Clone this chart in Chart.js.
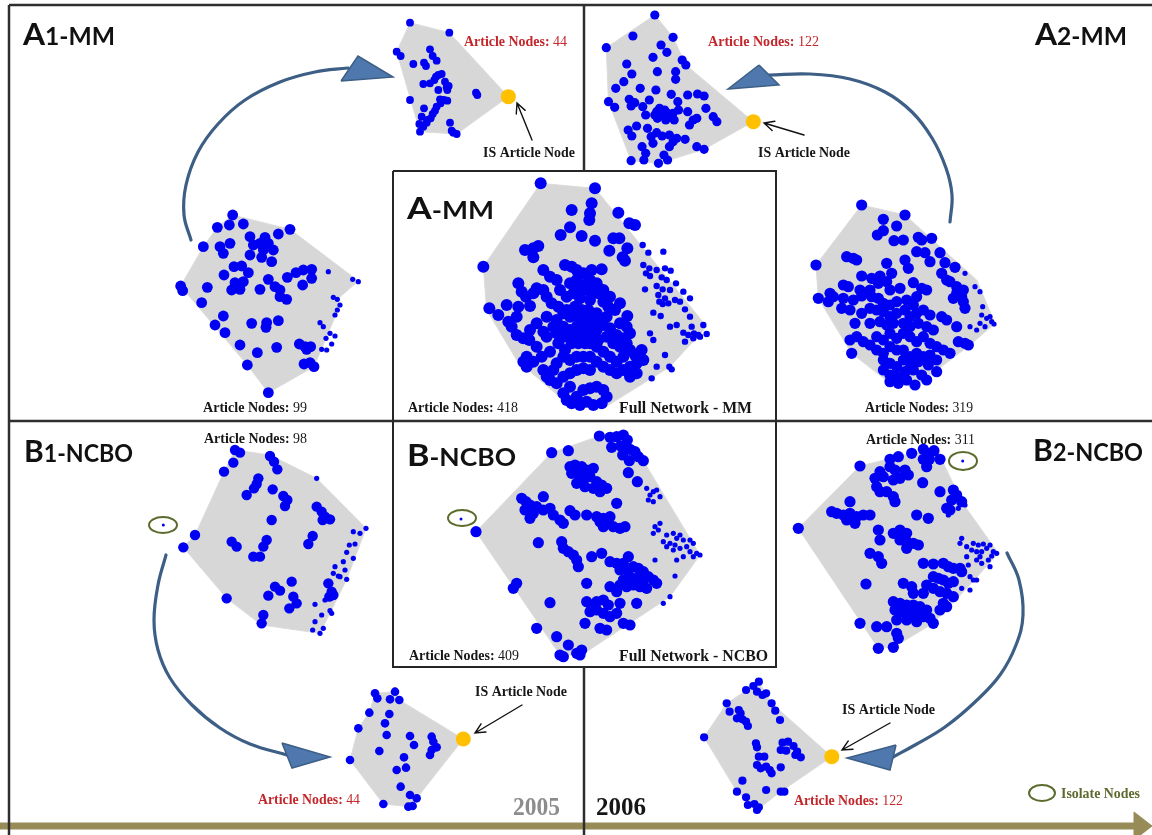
<!DOCTYPE html>
<html>
<head>
<meta charset="utf-8">
<script src="https://cdn.jsdelivr.net/npm/chart.js@4.4.1/dist/chart.umd.min.js"></script>
<style>
html,body{margin:0;padding:0;background:#fff;overflow:hidden}
canvas{display:block}
</style>
</head>
<body>
<canvas id="c" width="1152" height="835"></canvas>
<script>
// ---------- network layouts (layout units of each panel) ----------
// A1-MM, IS-article sub-network
const a1sHull = [[120,68],[238,98],[415,290],[260,402],[150,395],[80,155]];
const a1sNodes = [[120,68],[238,98],[80,155],[92,168],[180,148],[188,168],[200,182],[130,192],[162,188],[168,198],[205,225],[215,222],[193,240],[225,245],[160,252],[180,250],[230,262],[232,270],[205,270],[318,278],[322,285],[120,300],[210,298],[232,302],[200,320],[212,310],[162,325],[195,332],[155,350],[182,355],[170,368],[148,372],[160,380],[150,395],[240,368],[245,392],[260,402],[250,398],[198,230],[222,300],[172,360],[236,258],[188,342]];
const a1sIS = [[415,290]];

// A2-MM, IS-article sub-network
const a2sHull = [[205,45],[255,112],[290,195],[475,365],[340,448],[215,490],[140,482],[78,305],[72,143]];
const a2sNodes = [[205,45],[145,108],[255,112],[72,143],[222,135],[238,157],[200,172],[280,180],[290,195],[128,192],[142,222],[120,245],[212,215],[262,215],[262,238],[98,265],[165,265],[208,270],[250,283],[135,298],[150,308],[78,305],[95,322],[190,300],[268,305],[295,285],[322,282],[340,288],[140,318],[172,320],[180,345],[210,335],[225,345],[240,340],[255,340],[212,355],[235,360],[258,360],[295,335],[320,355],[345,325],[365,350],[375,365],[300,375],[155,378],[185,385],[132,390],[142,408],[210,398],[225,408],[245,405],[265,415],[288,418],[255,425],[170,440],[200,430],[245,440],[320,440],[340,448],[180,460],[230,465],[140,482],[175,480],[215,490],[240,480],[218,325],[232,330],[248,352],[205,345],[270,330],[195,410],[310,360]];
const a2sIS = [[475,365]];

// A1-MM, full 2005 network
const a1Hull = [[218,45],[390,88],[595,243],[532,298],[540,315],[462,500],[325,578],[262,495],[62,258],[130,140],[172,82]];
const a1Big = [[218,45],[172,82],[208,75],[250,72],[390,88],[355,102],[130,140],[180,140],[210,130],[190,160],[270,110],[280,135],[315,112],[300,130],[325,130],[340,150],[310,150],[270,165],[305,172],[335,185],[222,200],[245,198],[265,218],[192,225],[225,248],[250,245],[215,270],[240,268],[325,238],[300,268],[345,260],[360,270],[360,290],[380,298],[382,232],[408,218],[430,210],[455,208],[455,235],[428,255],[62,258],[68,272],[142,262],[125,308],[190,348],[165,375],[195,398],[275,370],[320,368],[318,382],[355,362],[240,435],[292,458],[350,442],[262,495],[325,578],[418,432],[435,440],[452,440],[440,448],[432,492],[450,488],[462,500]];
const a1Small = [[505,215],[578,238],[595,245],[520,292],[532,298],[540,315],[532,330],[525,345],[480,368],[490,380],[510,400],[525,408],[498,415],[515,432],[485,448],[500,450]];

// A-MM, full network
const aHull = [[452,40],[615,55],[950,470],[840,590],[640,715],[520,690],[380,570],[290,420],[280,290]];
const aBig = [[452,40],[615,55],[545,120],[605,100],[600,130],[598,150],[685,128],[718,160],[735,165],[540,172],[512,195],[575,198],[615,212],[670,205],[688,205],[405,240],[430,235],[445,228],[430,262],[658,242],[712,235],[698,262],[705,272],[280,290],
[460,300],[480,320],[500,330],[525,285],[545,290],[560,300],[580,310],[605,300],[635,298],[600,330],[620,340],[540,340],[560,330],[510,360],[530,380],[550,370],[570,385],[590,360],[600,390],[625,370],[640,395],[655,410],[675,420],[690,400],[712,438],[650,440],[620,430],[595,420],[575,420],[555,410],[530,420],[505,410],[485,400],[470,380],[440,355],[430,370],[460,360],[385,340],[395,365],[408,380],[420,408],[385,410],[350,405],[298,415],[325,435],[380,440],[355,455],[365,470],[380,495],[400,505],[420,480],[440,460],[460,485],[470,500],[440,530],[418,510],[410,560],[400,575],[410,590],[430,575],[455,560],[460,600],[470,620],[490,600],[500,580],[480,545],[505,520],[520,500],[540,480],[560,470],[580,465],[600,470],[620,455],[640,465],[660,475],[680,495],[700,505],[720,490],[710,470],[690,460],[720,540],[700,560],[680,575],[660,560],[640,545],[620,530],[600,500],[585,520],[565,520],[545,520],[525,540],[520,560],[540,570],[560,560],[580,560],[600,560],[620,575],[640,590],[660,600],[680,610],[700,600],[720,590],[740,580],[760,570],[740,610],[720,620],[600,600],[580,595],[560,600],[540,610],[520,620],[500,640],[480,630],[540,650],[520,670],[530,690],[545,700],[560,680],[580,660],[600,655],[620,650],[640,660],[650,680],[635,700],[610,705],[590,695],[570,705],
[520,430],[540,440],[560,440],[580,440],[600,450],[620,480],[500,450],[490,470],[500,490],[470,440],[520,470],[540,500],[560,500],[580,490],[600,520],[625,510],[650,500],[670,520],[690,530],[710,520],[735,555],[755,540],[660,380],[640,360],[610,360],[580,345],[570,360],[560,350]];
const aSmall = [[760,285],[778,295],[800,300],[825,295],[842,302],[768,310],[780,318],[815,322],[830,330],[858,340],[800,348],[818,358],[840,360],[765,358],[805,375],[825,385],[880,365],[900,385],[870,395],[808,395],[818,402],[835,400],[855,390],[885,418],[790,428],[812,438],[900,440],[860,465],[840,470],[905,470],[880,488],[895,495],[912,490],[925,495],[940,465],[950,492],[885,515],[910,505],[930,500],[790,510],[825,555],[800,590],[838,590],[845,598],[785,625],[780,490],[820,245],[775,248],[758,225]];

// A2-MM, full 2006 network
const a2Hull = [[215,45],[345,75],[560,270],[615,400],[540,465],[375,590],[300,580],[185,490],[85,325],[78,225]];
const a2Big = [[215,45],[345,75],[280,88],[320,108],[262,135],[280,122],[312,152],[340,150],[385,142],[395,150],[425,145],[380,185],[405,188],[450,188],[420,215],[345,210],[355,235],[465,218],[495,232],[455,250],[470,270],[170,200],[200,210],[190,205],[78,225],[290,220],[305,250],[270,258],[215,258],[245,265],[265,280],[290,275],[160,285],[175,290],[210,300],[240,300],[300,300],[330,295],[370,278],[395,295],[410,300],[480,275],[500,290],[500,310],[515,320],[490,325],[520,300],[520,335],[525,355],[120,310],[85,325],[115,335],[130,320],[160,325],[190,330],[215,318],[245,320],[265,325],[280,340],[300,345],[320,335],[350,330],[370,345],[380,320],[155,355],[180,360],[215,370],[240,355],[260,360],[280,365],[300,380],[320,370],[345,360],[360,380],[380,370],[400,360],[420,375],[455,380],[470,390],[500,410],[195,400],[240,400],[270,395],[290,405],[310,400],[340,400],[360,410],[385,400],[410,410],[430,420],[200,440],[180,450],[220,455],[240,465],[260,440],[280,450],[300,430],[320,445],[340,430],[360,440],[380,455],[400,440],[420,460],[440,470],[460,480],[480,490],[505,455],[525,460],[535,465],[185,490],[260,480],[280,490],[300,470],[320,480],[340,480],[360,500],[380,490],[400,500],[420,495],[440,510],[280,510],[300,520],[320,530],[340,510],[360,520],[385,515],[415,525],[440,545],[280,540],[300,555],[320,560],[345,545],[370,540],[395,555],[410,570],[300,575],[325,580],[350,570],[375,585]];
const a2Small = [[525,250],[555,290],[570,305],[578,350],[575,375],[600,380],[605,395],[612,402],[585,410],[570,400],[540,410],[560,420],[590,385]];

// B1-NCBO, full 2005 network
const b1Hull = [[705,90],[810,105],[950,175],[1098,325],[1040,478],[960,640],[785,615],[680,535],[550,382],[585,345],[672,155]];
const b1Big = [[705,90],[720,98],[700,128],[672,155],[810,108],[822,125],[832,148],[775,175],[770,192],[762,205],[740,225],[818,208],[850,228],[862,240],[855,258],[815,300],[585,345],[550,382],[695,365],[710,380],[800,360],[790,380],[760,410],[780,410],[950,260],[965,275],[975,290],[968,300],[990,298],[938,348],[925,372],[875,485],[825,500],[840,512],[805,527],[880,530],[890,550],[868,565],[680,535],[790,585],[785,610],[985,490],[995,515],[1000,525],[988,530]];
const b1Small = [[950,175],[1060,335],[1080,340],[1098,325],[1048,375],[1065,372],[1040,397],[1060,415],[1030,425],[1035,450],[1005,440],[1000,460],[1015,468],[1040,478],[1020,470],[975,540],[945,553],[990,572],[995,580],[965,585],[945,605],[970,625],[960,640],[938,630]];
const b1Isolate = [[490,315]];

// B-NCBO, full network
const bHull = [[485,98],[628,48],[700,45],[760,122],[930,405],[840,530],[575,705],[510,705],[258,335]];
const bBig = [[485,98],[535,92],[628,48],[660,52],[680,50],[700,45],[712,60],[692,78],[665,82],[720,88],[698,105],[735,95],[745,110],[760,122],[718,122],[715,158],[742,185],[540,140],[555,135],[575,140],[590,150],[610,145],[545,160],[565,165],[580,175],[600,170],[620,185],[635,195],[650,205],[560,190],[585,200],[610,205],[630,215],[460,230],[395,235],[408,245],[420,255],[440,260],[405,270],[430,280],[460,270],[480,265],[490,285],[510,300],[520,310],[420,295],[540,272],[555,285],[590,285],[620,290],[640,295],[660,290],[630,305],[650,310],[670,320],[690,325],[705,320],[640,320],[680,250],[258,335],[445,368],[515,365],[520,385],[535,395],[550,405],[560,420],[565,440],[605,410],[635,400],[660,425],[680,430],[700,430],[715,410],[690,450],[710,450],[730,440],[745,445],[760,455],[720,470],[740,475],[760,480],[775,470],[790,480],[700,480],[690,495],[710,500],[730,495],[750,500],[770,505],[800,490],[590,490],[480,548],[380,490],[370,505],[590,545],[605,560],[620,545],[640,540],[655,555],[600,575],[620,570],[640,580],[660,590],[680,580],[690,550],[585,610],[630,625],[650,630],[700,610],[720,615],[740,550],[660,500],[680,515],[440,625],[500,650],[535,675],[510,705],[520,710],[570,705],[575,690],[560,700]];
const bSmall = [[770,205],[790,215],[800,210],[780,225],[775,240],[810,230],[790,245],[810,310],[795,320],[805,330],[790,340],[830,345],[850,340],[860,355],[870,345],[880,360],[900,360],[910,370],[820,365],[840,370],[855,375],[830,380],[850,390],[870,385],[890,380],[900,395],[920,400],[930,405],[910,410],[860,420],[880,410],[795,420],[855,468],[840,530],[820,550]];
const bIsolate = [[213,297]];

// B2-NCBO, full 2006 network
const b2Hull = [[240,138],[395,100],[462,92],[485,118],[545,245],[655,400],[560,505],[460,610],[340,682],[295,685],[55,325]];
const b2Big = [[240,138],[330,118],[355,110],[395,100],[430,88],[442,100],[462,92],[430,118],[448,118],[480,118],[440,140],[330,140],[345,150],[300,155],[285,175],[310,170],[340,180],[360,175],[385,165],[375,150],[290,200],[300,215],[320,215],[340,230],[345,245],[428,188],[480,215],[520,210],[530,225],[515,240],[545,245],[500,265],[510,270],[210,245],[155,275],[170,280],[190,285],[210,280],[230,290],[250,285],[270,285],[200,300],[225,310],[55,325],[410,285],[445,295],[295,330],[300,360],[340,340],[360,330],[380,340],[360,360],[380,365],[400,370],[415,375],[380,385],[270,400],[295,410],[305,430],[430,430],[460,432],[490,430],[505,440],[520,445],[545,455],[540,445],[460,470],[475,475],[490,480],[505,490],[520,485],[440,495],[460,505],[480,515],[500,520],[520,530],[370,490],[395,500],[400,520],[430,520],[490,550],[500,560],[480,570],[340,545],[360,550],[380,555],[400,555],[420,560],[440,570],[345,570],[365,575],[385,580],[405,585],[430,590],[450,595],[460,610],[350,600],[380,600],[410,605],[258,492],[240,610],[290,620],[320,620],[350,640],[340,682],[295,685],[355,655]];
const b2Small = [[545,355],[540,370],[560,380],[580,370],[595,375],[610,372],[630,375],[575,390],[590,395],[605,395],[620,385],[640,395],[650,400],[635,408],[600,410],[560,410],[590,420],[625,420],[605,430],[630,440],[565,435],[570,470],[580,480],[590,480],[545,505],[570,510],[515,215],[525,230],[555,255],[535,265],[505,285]];
const b2Isolate = [[548,123]];

// B1-NCBO, IS-article sub-network
const b1sHull = [[735,160],[795,155],[808,180],[1000,297],[860,475],[840,500],[760,492],[660,360],[685,265],[718,218]];
const b1sNodes = [[735,160],[742,175],[795,155],[780,178],[808,180],[718,218],[778,222],[765,250],[685,265],[770,285],[840,288],[852,315],[905,290],[910,305],[920,322],[900,345],[905,330],[748,333],[822,352],[828,383],[800,390],[660,360],[812,440],[840,465],[860,475],[835,500],[848,498],[760,492]];
const b1sIS = [[1000,297]];

// B2-NCBO, IS-article sub-network
const b2sHull = [[402,130],[475,78],[490,65],[525,130],[690,290],[550,395],[485,450],[430,395],[340,232]];
const b2sNodes = [[490,65],[475,78],[455,90],[485,95],[500,105],[510,100],[525,130],[535,152],[548,180],[402,130],[410,155],[435,150],[440,160],[430,175],[445,178],[455,185],[460,198],[340,232],[482,250],[485,262],[555,248],[570,245],[585,258],[595,275],[550,270],[605,292],[590,285],[565,272],[490,290],[505,290],[485,315],[510,320],[520,330],[525,340],[495,325],[550,322],[445,362],[430,395],[510,390],[550,395],[560,395],[455,412],[460,435],[478,432],[490,442],[485,450]];
const b2sIS = [[690,290]];

// article-node counts printed under each network
const nodeCounts = {a1s:44, a2s:122, a1:99, a:418, a2:319, b1:98, b:409, b2:311, b1s:44, b2s:122};

// ---------- panel placement of each layout on the page ----------
const W = 1152, H = 835;
const networks = [
  {id:'a1s', ox:370, oy:0,   kx:3,    ky:3, hull:a1sHull, big:a1sNodes, small:[], is:a1sIS, iso:[], rBig:3.9, rSmall:2},
  {id:'a2s', ox:580, oy:0,   kx:2.74, ky:3, hull:a2sHull, big:a2sNodes, small:[], is:a2sIS, iso:[], rBig:4.6, rSmall:2},
  {id:'a1',  ox:160, oy:200, kx:3,    ky:3, hull:a1Hull,  big:a1Big,  small:a1Small, is:[], iso:[], rBig:5.4, rSmall:2.6},
  {id:'a',   ox:390, oy:170, kx:3,    ky:3, hull:aHull,   big:aBig,   small:aSmall,  is:[], iso:[], rBig:6, rSmall:3.2},
  {id:'a2',  ox:790, oy:190, kx:3,    ky:3, hull:a2Hull,  big:a2Big,  small:a2Small, is:[], iso:[], rBig:5.6, rSmall:2.6},
  {id:'b1',  ox:0,   oy:420, kx:3,    ky:3, hull:b1Hull,  big:b1Big,  small:b1Small, is:[], iso:b1Isolate, rBig:5.2, rSmall:2.6},
  {id:'b',   ox:390, oy:420, kx:3,    ky:3, hull:bHull,   big:bBig,   small:bSmall,  is:[], iso:bIsolate, rBig:5.6, rSmall:2.6},
  {id:'b2',  ox:780, oy:420, kx:3,    ky:3, hull:b2Hull,  big:b2Big,  small:b2Small, is:[], iso:b2Isolate, rBig:5.6, rSmall:2.6},
  {id:'b1s', ox:130, oy:640, kx:3,    ky:3, hull:b1sHull, big:b1sNodes, small:[], is:b1sIS, iso:[], rBig:4.3, rSmall:2},
  {id:'b2s', ox:580, oy:660, kx:2.74, ky:3, hull:b2sHull, big:b2sNodes, small:[], is:b2sIS, iso:[], rBig:4.1, rSmall:2}
];

// ---------- page furniture (page pixels) ----------
const frameLines = [
  [[9,5],[1152,5]], [[9,5],[9,835]], [[584,5],[584,171]],
  [[9,421],[1152,421]], [[584,667],[584,835]]
];
const centerBoxes = [
  [[393,171],[776,171],[776,421],[393,421],[393,171]],
  [[393,421],[776,421],[776,667],[393,667],[393,421]]
];
const flowArcs = [
  [[191,240],[184,215],[186,185],[198,152],[218,124],[245,100],[280,82],[315,72],[348,68]],
  [[950,222],[952,195],[946,168],[932,138],[912,112],[885,92],[850,79],[810,74],[769,75]],
  [[166,555],[158,585],[154,620],[158,650],[170,678],[192,705],[220,728],[250,744],[287,755]],
  [[1007,553],[1019,580],[1023,615],[1016,645],[1000,675],[975,702],[945,727],[915,745],[893,757]]
];
const flowHeads = [
  [[341,81],[358,56],[393,77],[341,81]],
  [[759,65],[779,85],[728,89],[759,65]],
  [[282,743],[330,757],[292,768],[282,743]],
  [[896,745],[847,758],[890,770],[896,745]]
];
const timeline = [[0,826],[1138,826]];
const timelineHead = [[1134,812],[1152,826],[1134,840],[1134,812]];
const pointers = [[532,140,517,103],[804,135,764,123],[522,705,475,733],[890,723,842,750]];
const isolateRings = [[163,525,14,8],[462,518,14,8],[963,461,14,9],[1042,793,13,8]];

const BLUE = '#0000f2', HULL = '#d7d7d7', GOLD = '#ffc000';
const RED = '#c3272b', INK = '#161616', OLIVE = '#5d6a2e';
const SERIF = '"Liberation Serif", "Times New Roman", serif';
const SANS = 'Lato, "Open Sans", sans-serif';

const titles = [
  ['A','1-MM',23,115,45], ['A','2-MM',1035,1127,45], ['A','-MM',407,494,219],
  ['B','1-NCBO',24,133,462], ['B','-NCBO',407,516,466], ['B','2-NCBO',1033,1143,461]
];
const captions = [
  ['a1s',464,567,46,RED], ['a2s',708,819,46,RED], ['a1',203,307,412,INK], ['a',408,518,412,INK],
  ['a2',865,973,412,INK], ['b1',204,307,443,INK], ['b2',866,975,444,INK], ['b',409,519,660,INK],
  ['b1s',258,360,804,RED], ['b2s',794,903,805,RED]
];
const notes = [
  ['IS Article Node',483,575,157,INK,14], ['IS Article Node',758,850,157,INK,14],
  ['IS Article Node',475,567,696,INK,14], ['IS Article Node',842,935,714,INK,14],
  ['Full Network - MM',619,752,413,INK,16], ['Full Network - NCBO',619,768,661,INK,16],
  ['2005',513,560,815,'#8c8c8c',25], ['2006',596,646,815,INK,25],
  ['Isolate Nodes',1061,1140,798,OLIVE,14]
];

// ---------- build scales and datasets ----------
const toPts = arr => arr.map(p => ({x:p[0], y:p[1]}));
const scales = {
  px: {type:'linear', display:false, min:0, max:W},
  py: {type:'linear', display:false, min:0, max:H, reverse:true}
};
const datasets = [];
const pageLine = (pts, extra) => Object.assign({
  type:'line', data:toPts(pts), xAxisID:'px', yAxisID:'py', pointRadius:0,
  fill:false, tension:0, clip:false, order:8
}, extra);

frameLines.forEach(s => datasets.push(pageLine(s, {borderColor:'#2e2e2e', borderWidth:2.5})));
centerBoxes.forEach(s => datasets.push(pageLine(s, {borderColor:'#262626', borderWidth:2})));
datasets.push(pageLine(timeline, {borderColor:'#978c57', borderWidth:7, order:9}));
datasets.push(pageLine(timelineHead, {borderColor:'#978c57', backgroundColor:'#978c57', borderWidth:1, fill:'shape', order:9}));
flowArcs.forEach(a => datasets.push(pageLine(a, {borderColor:'#3d5e85', borderWidth:3.2, tension:0.4, borderCapStyle:'round'})));
flowHeads.forEach(h => datasets.push(pageLine(h, {borderColor:'#3d5e85', backgroundColor:'#4f79ae', borderWidth:1.5, fill:'shape', order:7})));

networks.forEach(n => {
  const xs = 'x_' + n.id, ys = 'y_' + n.id;
  scales[xs] = {type:'linear', display:false, min:-n.kx * n.ox, max:n.kx * (W - n.ox)};
  scales[ys] = {type:'linear', display:false, min:-n.ky * n.oy, max:n.ky * (H - n.oy), reverse:true};
  const base = {xAxisID:xs, yAxisID:ys, clip:false};
  datasets.push(Object.assign({type:'line', data:toPts(n.hull.concat([n.hull[0]])), fill:'shape',
    backgroundColor:HULL, borderColor:'#dcdcdc', borderWidth:1, pointRadius:0, tension:0, order:6}, base));
  datasets.push(Object.assign({type:'scatter', data:toPts(n.big), pointRadius:n.rBig,
    pointBackgroundColor:BLUE, pointBorderWidth:0, order:3}, base));
  if (n.small.length) datasets.push(Object.assign({type:'scatter', data:toPts(n.small), pointRadius:n.rSmall,
    pointBackgroundColor:BLUE, pointBorderWidth:0, order:3}, base));
  if (n.is.length) datasets.push(Object.assign({type:'scatter', data:toPts(n.is), pointRadius:7.5,
    pointBackgroundColor:GOLD, pointBorderWidth:0, order:2}, base));
  if (n.iso.length) datasets.push(Object.assign({type:'scatter', data:toPts(n.iso), pointRadius:1.5,
    pointBackgroundColor:BLUE, pointBorderWidth:0, order:2}, base));
});

// ---------- labels, pointer arrows and isolate rings ----------
function fitText(ctx, parts, x1, x2, base, color) {
  let w = 0;
  parts.forEach(p => { ctx.font = p.font; p.w = ctx.measureText(p.t).width; w += p.w; });
  const s = (x2 - x1) / w;
  ctx.save();
  ctx.translate(x1, base); ctx.scale(s, 1);
  ctx.fillStyle = color; ctx.textAlign = 'left'; ctx.textBaseline = 'alphabetic';
  let cx = 0;
  parts.forEach(p => { ctx.font = p.font; ctx.fillText(p.t, cx, 0); cx += p.w; });
  ctx.restore();
}

const overlay = {
  id:'overlay',
  afterDatasetsDraw(chart) {
    const ctx = chart.ctx, X = chart.scales.px, Y = chart.scales.py;
    // pointer arrows
    ctx.save();
    ctx.strokeStyle = '#111'; ctx.lineWidth = 1.4; ctx.lineCap = 'round';
    pointers.forEach(([x1,y1,x2,y2]) => {
      const ax = X.getPixelForValue(x1), ay = Y.getPixelForValue(y1);
      const bx = X.getPixelForValue(x2), by = Y.getPixelForValue(y2);
      const ang = Math.atan2(by - ay, bx - ax), L = 11, sp = 0.45;
      ctx.beginPath(); ctx.moveTo(ax, ay); ctx.lineTo(bx, by);
      ctx.moveTo(bx - L * Math.cos(ang - sp), by - L * Math.sin(ang - sp));
      ctx.lineTo(bx, by);
      ctx.lineTo(bx - L * Math.cos(ang + sp), by - L * Math.sin(ang + sp));
      ctx.stroke();
    });
    // isolate rings
    ctx.strokeStyle = '#5b6b2c'; ctx.lineWidth = 2;
    isolateRings.forEach(([cx,cy,rx,ry]) => {
      ctx.beginPath();
      ctx.ellipse(X.getPixelForValue(cx), Y.getPixelForValue(cy), rx, ry, 0, 0, Math.PI * 2);
      ctx.stroke();
    });
    ctx.restore();
    // panel titles
    titles.forEach(([a, rest, x1, x2, b]) =>
      fitText(ctx, [{t:a, font:'700 31px ' + SANS}, {t:rest, font:'700 24px ' + SANS}], x1, x2, b, '#111'));
    // node-count captions
    captions.forEach(([id, x1, x2, b, col]) =>
      fitText(ctx, [{t:'Article Nodes: ', font:'700 14px ' + SERIF}, {t:String(nodeCounts[id]), font:'400 14px ' + SERIF}], x1, x2, b, col));
    notes.forEach(([t, x1, x2, b, col, sz]) =>
      fitText(ctx, [{t:t, font:'700 ' + sz + 'px ' + SERIF}], x1, x2, b, col));
  }
};

new Chart(document.getElementById('c'), {
  type:'scatter',
  data:{datasets},
  options:{
    responsive:false, animation:false, devicePixelRatio:1,
    layout:{padding:0, autoPadding:false},
    scales,
    plugins:{legend:{display:false}, tooltip:{enabled:false}, title:{display:false}},
    events:[]
  },
  plugins:[overlay]
});
</script>
</body>
</html>
